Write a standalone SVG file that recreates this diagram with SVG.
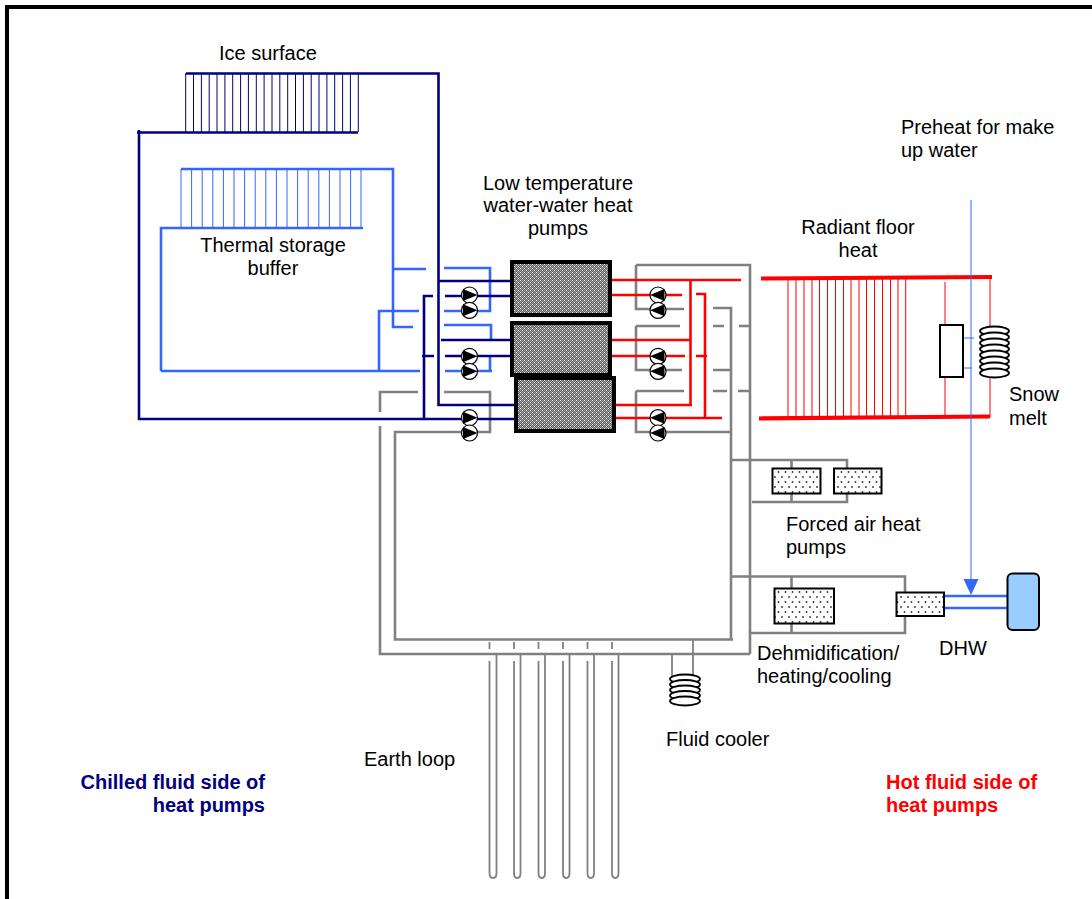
<svg xmlns="http://www.w3.org/2000/svg" xmlns:xlink="http://www.w3.org/1999/xlink" width="1092" height="899" viewBox="0 0 1092 899">
<style>
text{font-family:"Liberation Sans",Arial,sans-serif;font-size:20px;fill:#000}
.b{font-weight:bold}
.n,.nt,.l,.lt,.r,.rb,.rt,.g,.gt{fill:none}
.n{stroke:#000080;stroke-width:2.6}
.nt{stroke:#000080;stroke-width:1}
.l{stroke:#3366ff;stroke-width:2.6}
.lt{stroke:#3366ff;stroke-width:1}
.r{stroke:#ff0000;stroke-width:2.6}
.rb{stroke:#ff0000;stroke-width:4.2}
.rt{stroke:#ff0000;stroke-width:1}
.g{stroke:#808080;stroke-width:2.6}
.gt{stroke:#808080;stroke-width:1.8}
.hp{fill:url(#dark);stroke:#000;stroke-width:4}
.u{fill:url(#dots);stroke:#000;stroke-width:2}
.coil{fill:#fff;stroke:#000;stroke-width:1.8}
.pc{fill:#fff;stroke:#000;stroke-width:1.2}
.tri{fill:#000;stroke:none}
.arr{fill:#3366ff;stroke:none}
</style>
<defs>
<pattern id="dark" width="4" height="4" patternUnits="userSpaceOnUse"><rect width="4" height="4" fill="#5c5c5c"/><rect x="0" y="0" width="1" height="1" fill="#fff"/><rect x="1" y="1" width="1" height="1" fill="#a8a8a8"/><rect x="2" y="2" width="1" height="1" fill="#fff"/><rect x="3" y="3" width="1" height="1" fill="#a8a8a8"/><rect x="2" y="0" width="1" height="1" fill="#a8a8a8"/><rect x="0" y="2" width="1" height="1" fill="#a8a8a8"/><rect x="3" y="1" width="1" height="1" fill="#a8a8a8"/><rect x="1" y="3" width="1" height="1" fill="#a8a8a8"/></pattern>
<pattern id="dots" width="7" height="10" patternUnits="userSpaceOnUse"><rect width="7" height="10" fill="#fff"/><circle cx="1.500" cy="2" r="0.900" fill="#333"/><circle cx="5" cy="7" r="0.900" fill="#333"/></pattern>
<g id="pr"><circle class="pc" r="8"/><path class="tri" d="M-6.500-6L8 0L-6.500 6Z"/></g>
<g id="pl"><circle class="pc" r="8"/><path class="tri" d="M6.500-6L-8 0L6.500 6Z"/></g>
</defs>
<rect width="1092" height="899" fill="#fff"/>
<path id="frame" d="M7 899V7H1092" fill="none" stroke="#000" stroke-width="4"/>
<g id="connectors">
<path class="g" d="M636 326H680M636 326V370H682M636 391H684M636 391V432H731M636 265H750V654M636 265V309H684M713 308H731V639M713 326H724M739 326H750M713 370H731M713 391H727M738 391H750"/>
<path class="g" d="M444 392H490V432H395V639.500H733M380 412V392H418M380 426V654H750"/>
<path class="g" d="M732 460H847V502H752M791.500 460V502M732 576.500H905V633H750M791.500 576.500V633"/>
<path class="gt" d="M672 654V676M693 640V676"/>
<path class="gt" d="M489.500 642V649M514 642V649M538.500 642V649M563 642V649M587.500 642V649M612 642V649"/>
<path class="gt" d="M489.500 661V873Q489.500 878 493 878Q496.500 878 496.500 873V654M514 661V873Q514 878 517.200 878Q520.500 878 520.500 873V654M538.500 661V873Q538.500 878 541.800 878Q545 878 545 873V654M563 661V873Q563 878 566.200 878Q569.500 878 569.500 873V654M587.500 661V873Q587.500 878 590.800 878Q594 878 594 873V654M612 661V873Q612 878 615.200 878Q618.500 878 618.500 873V654"/>
<path class="l" d="M181 169H393V327H413M392 269H426M161 371V228H363M161 371H420M379 371V311H419M444 268H490V311H444M444 325H491V340M490 357V371M445 371H492"/>
<path class="lt" d="M181 169V228M191.600 169V228M202.200 169V228M212.800 169V228M223.400 169V228M234 169V228M244.600 169V228M255.200 169V228M265.800 169V228M276.400 169V228M287 169V228M297.600 169V228M308.200 169V228M318.800 169V228M329.400 169V228M340 169V228M350.600 169V228M361 169V228"/>
<path class="nt" d="M185.700 73V132M193.500 73V132M201.400 73V132M209.200 73V132M217 73V132M224.900 73V132M232.700 73V132M240.600 73V132M248.400 73V132M256.300 73V132M264.100 73V132M272 73V132M279.800 73V132M287.700 73V132M295.500 73V132M303.400 73V132M311.200 73V132M319 73V132M326.900 73V132M334.700 73V132M342.600 73V132M350.400 73V132M358.300 73V132"/>
<path class="n" d="M186 73.500H438.500V405H516M137 132.500H358M139 130V419H516M438.500 281H512M441 340H512M424 419V296H433M445 296H512M445 356H512M422 356H434"/>
<path class="r" d="M611 280H741M611 340H690M614 405H692M690.500 280V405M611 295H682M611 356H685M614 418H722M696 294H705V418M696 356H707"/>
<path class="rb" d="M761 278.500L992 277M759 418.500L990 416.500"/>
<path class="rt" d="M788 278V416M796 278V416M804 278V416M812 278V416M819.500 278V416M827.500 278V416M835.500 278V416M843.500 278V416M851 278V416M859 278V416M866.500 278V416M874.500 278V416M882.500 278V416M890.500 278V416M898 278V416M905.700 278V416M945 282V416M990 277V417"/>
<path class="lt" d="M971 200V585M963 338H974M963 368H972"/>
<path class="l" d="M944 596H1007M944 608H1007"/>
<path class="arr" d="M971 595L963.500 579H978.500Z"/>
</g>
<g id="hp1"><rect class="hp" x="512" y="262" width="98" height="53"/></g>
<g id="hp2"><rect class="hp" x="512" y="323" width="98" height="52"/></g>
<g id="hp3"><rect class="hp" x="516" y="378" width="98" height="53"/></g>
<g id="pumps-left">
<use xlink:href="#pr" x="469.500" y="295"/><use xlink:href="#pr" x="469.500" y="310.300"/>
<use xlink:href="#pr" x="469.500" y="356.300"/><use xlink:href="#pr" x="469.500" y="371.300"/>
<use xlink:href="#pr" x="469.500" y="417.700"/><use xlink:href="#pr" x="469.500" y="433"/>
</g>
<g id="pumps-right">
<use xlink:href="#pl" x="658" y="295"/><use xlink:href="#pl" x="658" y="310.300"/>
<use xlink:href="#pl" x="658" y="356.300"/><use xlink:href="#pl" x="658" y="371.300"/>
<use xlink:href="#pl" x="658" y="417.700"/><use xlink:href="#pl" x="658" y="433"/>
</g>
<g id="snow-melt-exchanger"><rect x="940" y="325" width="23" height="52" fill="#fff" stroke="#000" stroke-width="2"/></g>
<g id="snow-melt-coil" transform="translate(994.500 0)">
<ellipse class="coil" cy="331" rx="14.500" ry="4.500"/><ellipse class="coil" cy="337" rx="14.500" ry="4.500"/><ellipse class="coil" cy="343" rx="14.500" ry="4.500"/><ellipse class="coil" cy="349" rx="14.500" ry="4.500"/><ellipse class="coil" cy="355" rx="14.500" ry="4.500"/><ellipse class="coil" cy="361" rx="14.500" ry="4.500"/><ellipse class="coil" cy="367" rx="14.500" ry="4.500"/><ellipse class="coil" cy="373" rx="14.500" ry="4.500"/>
</g>
<g id="fluid-cooler" transform="translate(685 0)">
<ellipse class="coil" cy="679" rx="15" ry="4.500"/><ellipse class="coil" cy="684.500" rx="15" ry="4.500"/><ellipse class="coil" cy="690" rx="15" ry="4.500"/><ellipse class="coil" cy="695.500" rx="15" ry="4.500"/><ellipse class="coil" cy="701" rx="15" ry="4.500"/>
</g>
<g id="fa1"><rect class="u" x="772.500" y="468.500" width="48" height="25"/></g>
<g id="fa2"><rect class="u" x="834" y="468.500" width="47.500" height="25"/></g>
<g id="dehumid"><rect class="u" x="774.500" y="588.500" width="59.500" height="35"/></g>
<g id="dhw-exchanger"><rect class="u" x="896.500" y="592.500" width="47.500" height="23.500"/></g>
<g id="dhw-tank"><rect x="1007.500" y="573.500" width="31.500" height="56.500" rx="5" fill="#99ccff" stroke="#000" stroke-width="2"/></g>
<g id="labels">
<text x="219" y="60">Ice surface</text>
<text x="273" y="252" text-anchor="middle">Thermal storage</text>
<text x="273" y="275" text-anchor="middle">buffer</text>
<text x="558" y="190" text-anchor="middle">Low temperature</text>
<text x="558" y="212" text-anchor="middle">water-water heat</text>
<text x="558" y="235" text-anchor="middle">pumps</text>
<text x="858" y="234" text-anchor="middle">Radiant floor</text>
<text x="858" y="257" text-anchor="middle">heat</text>
<text x="901" y="134">Preheat for make</text>
<text x="901" y="157">up water</text>
<text x="1009" y="401">Snow</text>
<text x="1009" y="425">melt</text>
<text x="786" y="531">Forced air heat</text>
<text x="786" y="554">pumps</text>
<text x="757" y="660">Dehmidification/</text>
<text x="757" y="683">heating/cooling</text>
<text x="939" y="655">DHW</text>
<text x="666" y="746">Fluid cooler</text>
<text x="364" y="766">Earth loop</text>
<text class="b" x="265" y="789" text-anchor="end" style="fill:#000080">Chilled fluid side of</text>
<text class="b" x="265" y="812" text-anchor="end" style="fill:#000080">heat pumps</text>
<text class="b" x="886" y="789" style="fill:#ff0000">Hot fluid side of</text>
<text class="b" x="886" y="812" style="fill:#ff0000">heat pumps</text>
</g>
</svg>
